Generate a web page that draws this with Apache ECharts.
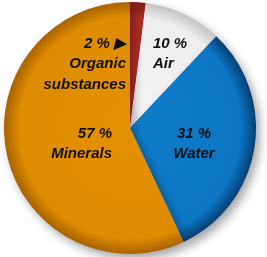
<!DOCTYPE html>
<html><head><meta charset="utf-8">
<script src="https://cdn.jsdelivr.net/npm/echarts@6/dist/echarts.min.js"></script>
<style>html,body{margin:0;padding:0;background:#fff}#c{width:267px;height:257px}</style>
</head><body><div id="c"></div>
<script>
const categories = ['Organic substances', 'Air', 'Water', 'Minerals'];
const values = [2, 10, 31, 57];
const labelTexts = ['2 % \u25B6\nOrganic\nsubstances', '10 %\nAir', '31 %\nWater', '57 %\nMinerals'];

const CX = 130, CY = 128, R = 126;
const palette = [
  ['#bf3128', '#b02c24', '#7e1a14'],
  ['#f4f4f4', '#eeeeee', '#c4c4c4'],
  ['#0f7cca', '#0c76c4', '#073f73'],
  ['#e59200', '#de8c00', '#a86200']
];
const labelAnchors = [
  {x: 126, y: 64, align: 'right'},
  {x: 153, y: 54, align: 'left'},
  {x: 194, y: 144, align: 'center'},
  {x: 112, y: 144, align: 'right'}
];
function grad(c) {
  return {type: 'radial', x: CX, y: CY, r: R, global: true,
    colorStops: [{offset: 0, color: c[0]}, {offset: 0.88, color: c[1]}, {offset: 1, color: c[2]}]};
}
const chart = echarts.init(document.getElementById('c'), null, {renderer: 'canvas'});
chart.setOption({
  backgroundColor: '#fff',
  animation: false,
  series: [{
    type: 'pie',
    center: [CX, CY],
    radius: [0, R],
    startAngle: 90,
    clockwise: true,
    itemStyle: {borderWidth: 0, shadowBlur: 10, shadowOffsetX: 4, shadowOffsetY: 5, shadowColor: 'rgba(0,0,0,0.35)'},
    label: {
      show: true, position: 'inside', color: '#111',
      fontFamily: '"Liberation Sans Narrow", "Arial Narrow", "Liberation Sans", sans-serif',
      fontStyle: 'italic', fontWeight: 'bold', fontSize: 15, lineHeight: 20.5,
      formatter: p => labelTexts[p.dataIndex]
    },
    labelLine: {show: false},
    labelLayout: p => {
      const a = labelAnchors[p.dataIndex];
      return {x: a.x, y: a.y, align: a.align, verticalAlign: 'middle'};
    },
    data: categories.map((n, i) => ({name: n, value: values[i], itemStyle: {color: grad(palette[i])}}))
  }]
});
</script></body></html>
